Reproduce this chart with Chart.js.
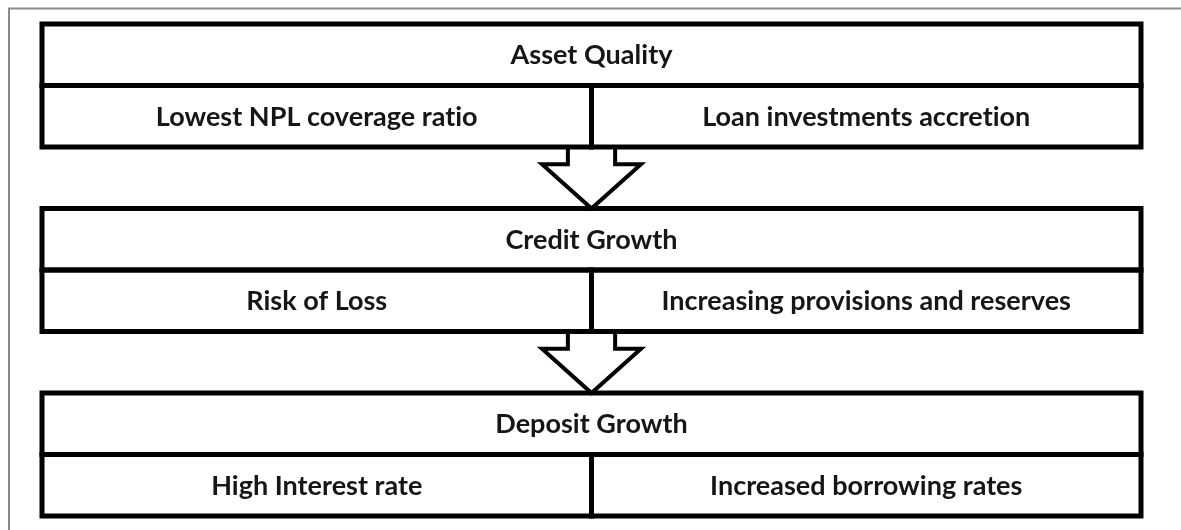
<!DOCTYPE html>
<html>
<head>
<meta charset="utf-8">
<script src="https://cdn.jsdelivr.net/npm/chart.js@4.4.1/dist/chart.umd.min.js"></script>
<style>
html,body{margin:0;padding:0;background:#fff;}
#wrap{width:1181px;height:530px;}
</style>
</head>
<body>
<div id="wrap"><canvas id="c" width="1181" height="530"></canvas></div>
<script>
// ---- data ----
const rowKeys = ['r0', 'r1', 'r2', 'r3', 'r4', 'r5', 'r6', 'r7'];
const headerRows = ['r0', 'r3', 'r6'];
const itemRows = ['r1', 'r4', 'r7'];
const arrowRows = ['r2', 'r5'];
const headers = ['Asset Quality', 'Credit Growth', 'Deposit Growth'];
const leftItems = ['Lowest NPL coverage ratio', 'Risk of Loss', 'High Interest rate'];
const rightItems = ['Loan investments accretion', 'Increasing provisions and reserves', 'Increased borrowing rates'];
const headerSpan = [0, 2];
const leftSpan = [0, 1];
const rightSpan = [1, 2];

const FONT = 'bold 27px Lato';

function mk(label, rows, texts, span) {
  return {
    label: label,
    data: rows.map((r, i) => ({ y: r, x: span.slice(), t: texts[i] })),
    backgroundColor: '#ffffff',
    borderWidth: 0,
    grouped: false,
    categoryPercentage: 1,
    barPercentage: 1
  };
}

const framePlugin = {
  id: 'frame',
  beforeDraw(chart) {
    const ctx = chart.ctx;
    ctx.save();
    ctx.fillStyle = '#ffffff';
    ctx.fillRect(0, 0, chart.width, chart.height);
    ctx.strokeStyle = '#8a8a8a';
    ctx.lineWidth = 2;
    ctx.beginPath();
    ctx.moveTo(9, chart.height);
    ctx.lineTo(9, 8.5);
    ctx.lineTo(chart.width, 8.5);
    ctx.stroke();
    ctx.restore();
  }
};

const diagramPlugin = {
  id: 'diagram',
  afterDatasetsDraw(chart) {
    const ctx = chart.ctx;
    const xs = chart.scales.x, ys = chart.scales.y;
    const cx = xs.getPixelForValue(1);
    const unit = xs.getPixelForValue(1) - xs.getPixelForValue(0);
    const band = ys.getPixelForValue(1) - ys.getPixelForValue(0);
    ctx.save();
    // arrows
    arrowRows.forEach(r => {
      const idx = rowKeys.indexOf(r);
      const top = ys.getPixelForValue(idx) - band / 2;
      const bot = ys.getPixelForValue(idx) + band / 2;
      const sw = unit * 0.043, hw = unit * 0.09;
      const neck = top + (bot - top) * 0.28;
      ctx.beginPath();
      ctx.moveTo(cx - sw, top);
      ctx.lineTo(cx - sw, neck);
      ctx.lineTo(cx - hw, neck);
      ctx.lineTo(cx, bot);
      ctx.lineTo(cx + hw, neck);
      ctx.lineTo(cx + sw, neck);
      ctx.lineTo(cx + sw, top);
      ctx.fillStyle = '#ffffff';
      ctx.fill();
      ctx.strokeStyle = '#000000';
      ctx.lineWidth = 4;
      ctx.lineJoin = 'miter';
      ctx.stroke();
    });
    // boxes + text
    chart.data.datasets.forEach((ds, di) => {
      const meta = chart.getDatasetMeta(di);
      meta.data.forEach((el, i) => {
        const p = el.getProps(['x', 'y', 'base', 'height'], true);
        const x0 = Math.min(p.x, p.base), x1 = Math.max(p.x, p.base);
        const y0 = p.y - p.height / 2, y1 = p.y + p.height / 2;
        ctx.strokeStyle = '#000000';
        ctx.lineWidth = 5;
        ctx.strokeRect(x0, y0, x1 - x0, y1 - y0);
        ctx.fillStyle = '#161616';
        ctx.font = FONT;
        if ('letterSpacing' in ctx) ctx.letterSpacing = '0.01px';
        ctx.textAlign = 'center';
        ctx.textBaseline = 'middle';
        ctx.fillText(ds.data[i].t, (x0 + x1) / 2, p.y + 1);
      });
    });
    ctx.restore();
  }
};

new Chart(document.getElementById('c'), {
  type: 'bar',
  data: {
    labels: rowKeys,
    datasets: [
      mk('headers', headerRows, headers, headerSpan),
      mk('left', itemRows, leftItems, leftSpan),
      mk('right', itemRows, rightItems, rightSpan)
    ]
  },
  options: {
    indexAxis: 'y',
    responsive: false,
    animation: false,
    layout: { padding: { left: 42, right: 40, top: 24, bottom: 14 } },
    plugins: { legend: { display: false }, tooltip: { enabled: false } },
    scales: {
      x: { type: 'linear', min: 0, max: 2, display: false },
      y: { type: 'category', labels: rowKeys, display: false, offset: true }
    }
  },
  plugins: [framePlugin, diagramPlugin]
});
</script>
</body>
</html>
